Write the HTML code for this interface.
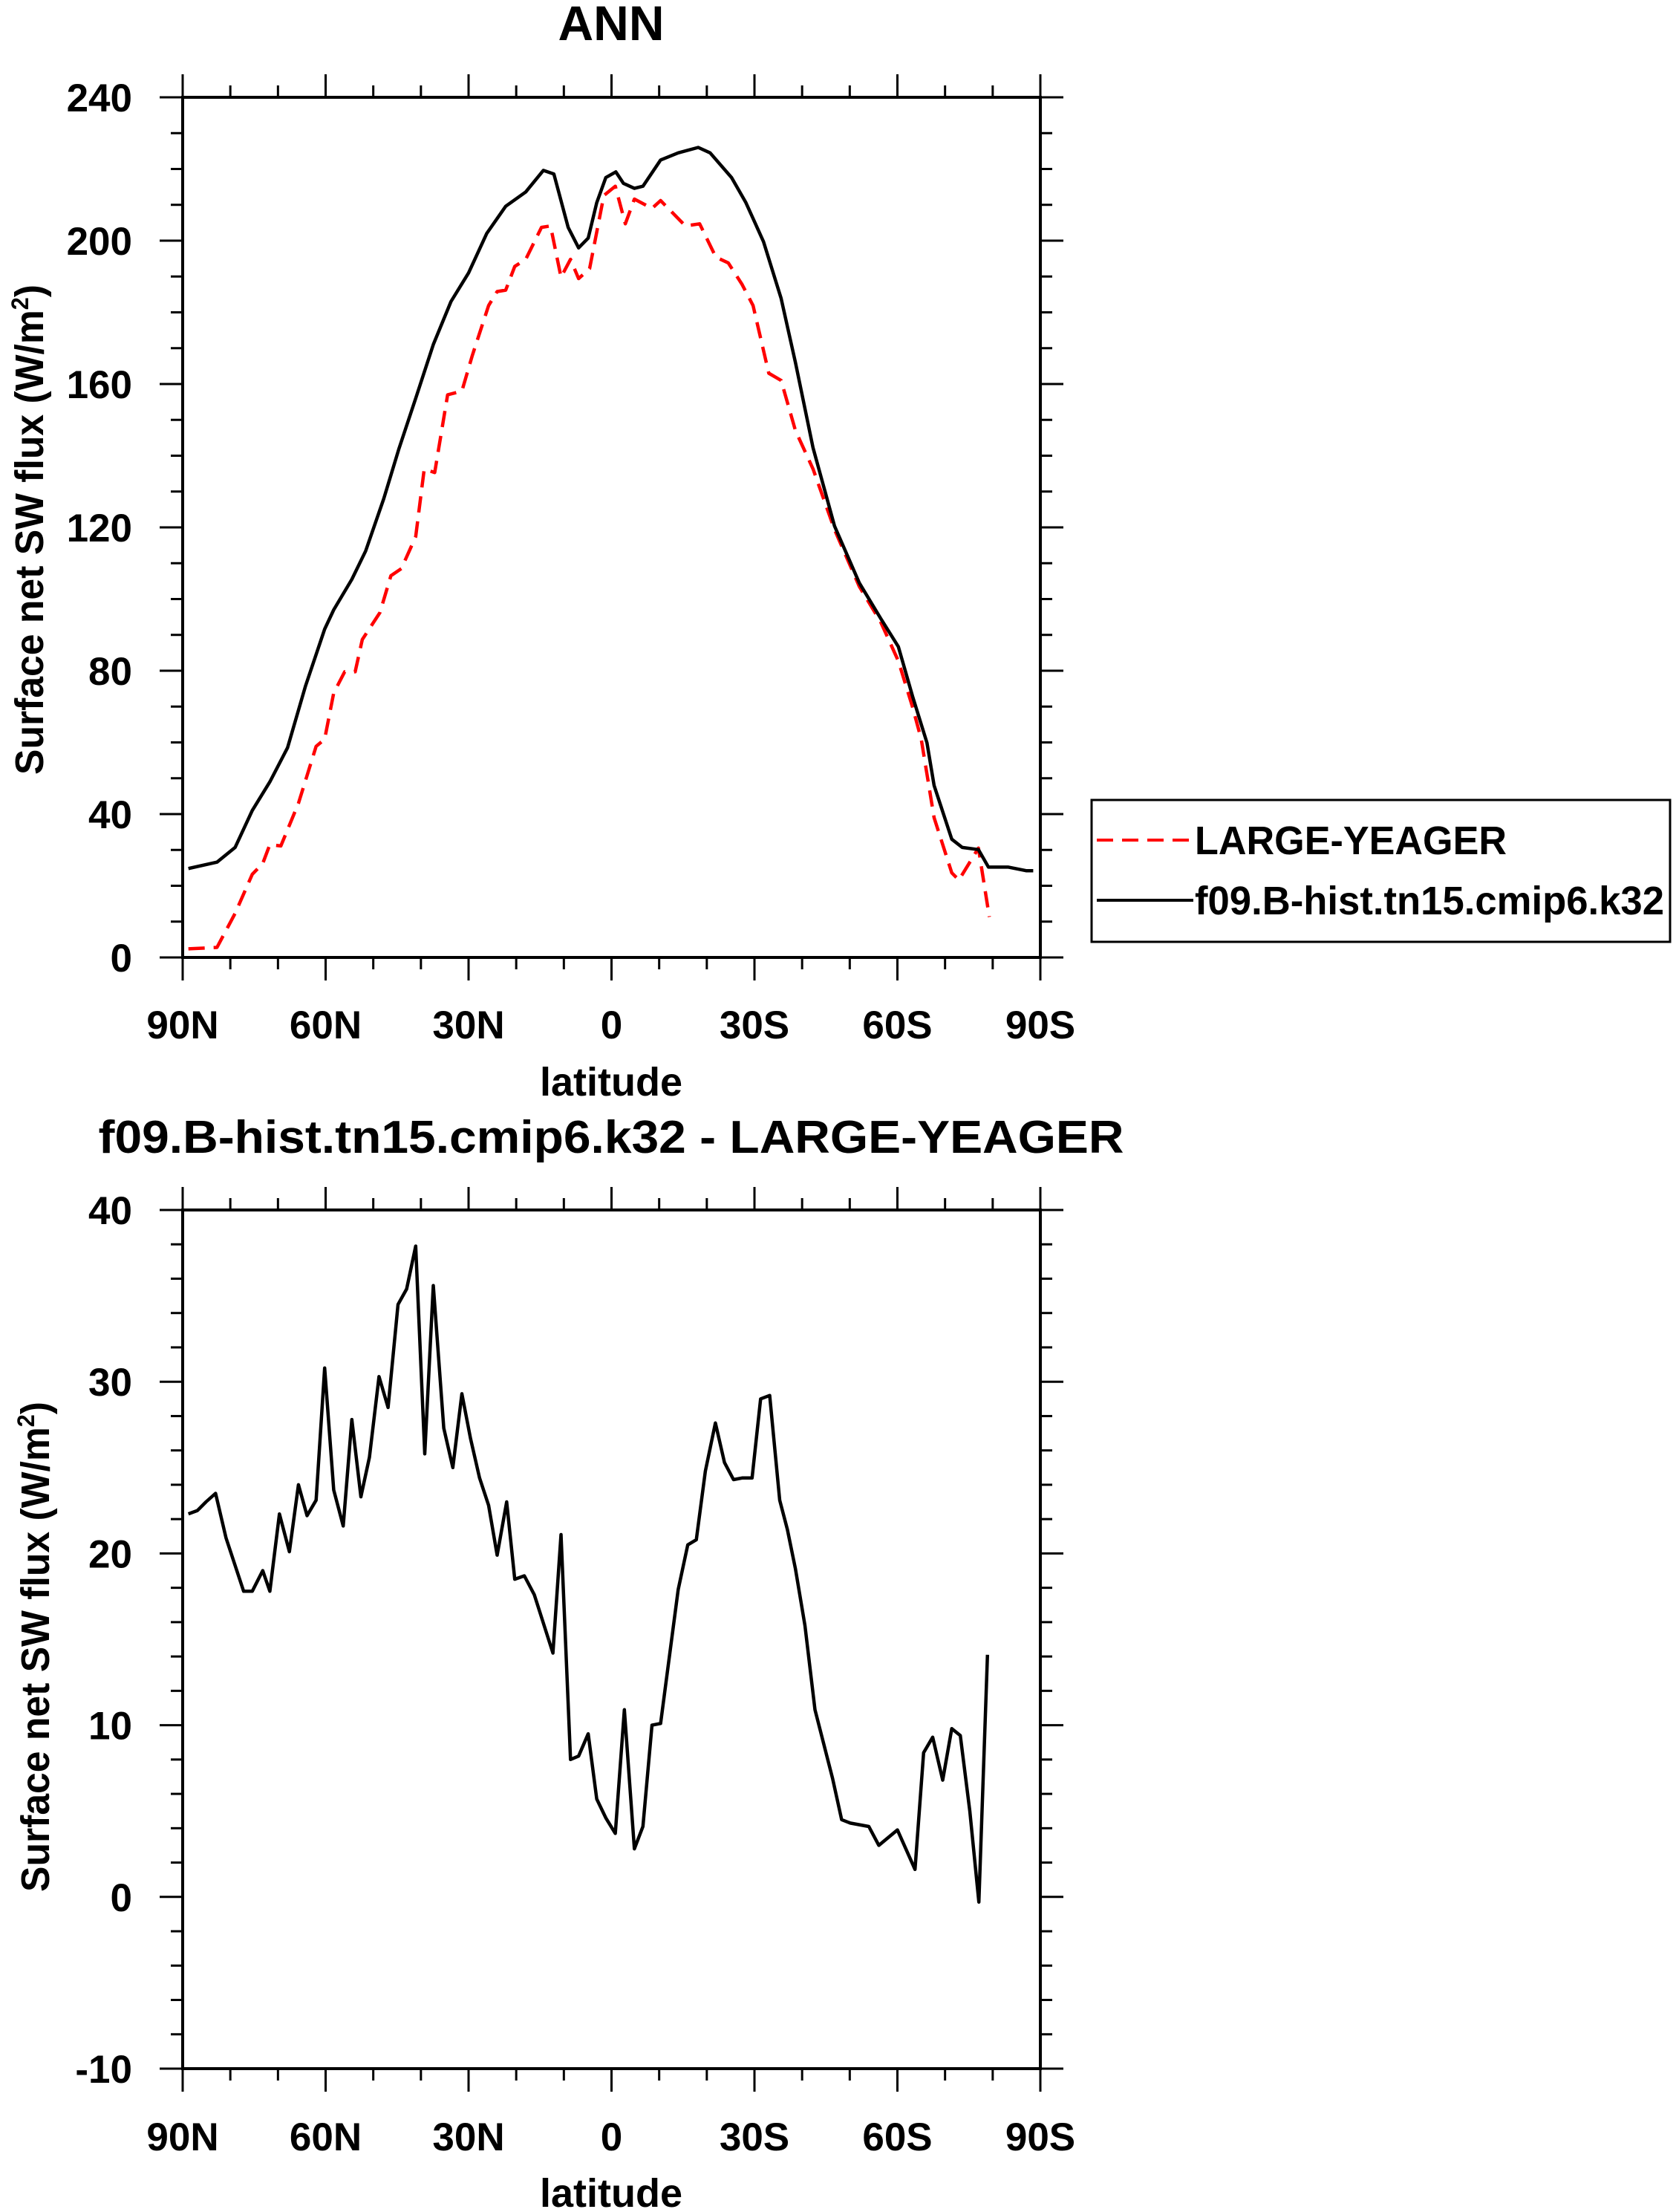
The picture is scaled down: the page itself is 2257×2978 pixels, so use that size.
<!DOCTYPE html>
<html><head><meta charset="utf-8"><style>
html,body{margin:0;padding:0;background:#fff}
svg{display:block;font-family:"Liberation Sans",sans-serif;font-weight:bold}
</style></head><body>
<svg id="chart" width="2257" height="2978" viewBox="0 0 2257 2978" xmlns="http://www.w3.org/2000/svg">
<rect width="2257" height="2978" fill="#fff"/>
<text x="823" y="54" font-size="66" text-anchor="middle">ANN</text>
<text x="823" y="1552" font-size="62" text-anchor="middle" textLength="1381" lengthAdjust="spacingAndGlyphs">f09.B-hist.tn15.cmip6.k32 - LARGE-YEAGER</text>
<g id="top"></g>
<g id="bot"></g>
<g>
<rect x="1470" y="1077" width="779" height="191" fill="#fff" stroke="#000" stroke-width="3"/>
<line x1="1477" y1="1131" x2="1607" y2="1131" stroke="#f00" stroke-width="4" stroke-dasharray="22,12"/>
<text x="1609" y="1150" font-size="54" textLength="420" lengthAdjust="spacingAndGlyphs">LARGE-YEAGER</text>
<line x1="1477" y1="1212" x2="1607" y2="1212" stroke="#000" stroke-width="4"/>
<text x="1609" y="1231" font-size="54" textLength="632" lengthAdjust="spacingAndGlyphs">f09.B-hist.tn15.cmip6.k32</text>
</g>
</svg>
<script>
const xTickLats=[90,60,30,0,-30,-60,-90];
const xTickLabels=["90N","60N","30N","0","30S","60S","90S"];
const topYTicks=[0,40,80,120,160,200,240];
const botYTicks=[-10,0,10,20,30,40];
const blackLat=[88.8,82.8,79,75.4,71.7,68,64.2,60.2,58.3,54.5,51.6,47.8,44.6,41.1,37.4,33.7,30,26.2,22.2,18,14.3,12.1,9.1,6.9,4.9,3.1,1.2,-0.9,-2.5,-4.8,-6.6,-10.3,-14,-18.2,-20.7,-25.2,-28.2,-31.9,-35.6,-38.6,-42.3,-46.8,-52,-56.5,-60.2,-63.2,-66.2,-67.7,-71.4,-73.6,-77,-79.1,-83.3,-87,-88.5];
const blackVal=[24.8,26.6,30.7,41,49,58.5,75.8,91.6,97,105.5,113.4,128,142,156,171,183,191,202,209.6,213.6,219.6,218.6,203.7,198,200.7,210.6,217.6,219.2,216,214.6,215.2,222.5,224.5,226,224.5,217.6,210.6,199.7,183.9,166,142.2,120.4,104.5,94.6,86.7,72.8,59.9,48,33,30.7,30.1,25.2,25.2,24.2,24.2];
const redLat=[88.8,82.8,79,75.4,73.2,71.7,69.4,65.7,62,60.2,58.3,56,53.8,52.3,48.6,46.3,44.1,41.1,39.3,37.1,34.4,31.4,29.2,25.8,24,22.2,20.3,18,14.7,12.8,10.6,8.6,6.9,4.6,1.6,-0.8,-2.9,-4.8,-8.5,-10.3,-15.5,-18.5,-21.9,-24.5,-27.4,-29.7,-33,-35.6,-38.6,-42.3,-46.8,-52,-56.5,-60.2,-63.2,-65,-67.7,-71.4,-72.9,-77,-79.3];
const redVal=[2.4,2.8,12.3,23.2,26.2,31.5,31.1,43,58.9,60.9,73.8,79.7,79.7,88.7,96.2,106.5,108.5,117.4,136.3,135.3,157,158,168,181.9,185.8,186.2,192.8,194.8,203.7,204.1,189.8,194.8,189.4,192.2,212.6,215.2,204.7,211.6,209,211.2,204.1,204.7,195.4,193.8,187.8,181.9,163,161,147,136.3,119.4,103.5,93.6,82.7,69.8,60.9,39,23.6,21.6,30.5,11.3];
const diffLat=[88.8,86.9,85.1,83.1,80.9,77.2,75.4,73.2,71.7,69.7,67.6,65.7,63.9,62,60.2,58.3,56.3,54.5,52.6,50.8,48.8,46.9,44.8,43,41.1,39.2,37.4,35.2,33.3,31.4,29.6,27.7,25.8,24,22,20.3,18.3,16.2,12.3,10.6,8.6,6.9,4.9,3.1,1.2,-0.8,-2.7,-4.8,-6.6,-8.5,-10.3,-14,-16,-17.8,-19.7,-21.8,-23.7,-25.6,-27.5,-29.5,-31.3,-33.2,-35.3,-36.9,-38.6,-40.6,-42.7,-46.4,-48.3,-50.1,-54,-56.1,-60,-63.7,-65.5,-67.4,-69.5,-71.4,-73.2,-75.2,-77.1,-78.9];
const diffVal=[22.3,22.5,23,23.5,20.9,17.8,17.8,19,17.8,22.3,20.1,24,22.2,23.1,30.8,23.7,21.6,27.8,23.3,25.6,30.3,28.5,34.5,35.4,37.9,25.8,35.6,27.3,25,29.3,26.7,24.4,22.8,19.9,23,18.5,18.7,17.6,14.2,21.1,8,8.2,9.5,5.7,4.6,3.7,10.9,2.8,4.1,10,10.1,17.9,20.5,20.8,24.8,27.6,25.3,24.3,24.4,24.4,29,29.2,23.1,21.4,19.1,15.8,10.9,6.9,4.5,4.3,4.1,3,3.9,1.6,8.4,9.3,6.8,9.8,9.4,5,-0.3,14.1];

const NS="http://www.w3.org/2000/svg";
function mk(parent,tag,attrs){const e=document.createElementNS(NS,tag);for(const k in attrs)e.setAttribute(k,attrs[k]);parent.appendChild(e);return e;}
const X0=246,X1=1401;
function xScale(lat){return X0+(90-lat)/180*(X1-X0);}

function panel(g,yTop,yBot,ymin,ymax,yTicks,yMinorStep,xLabY,latY,titleCY,titleX){
  const yS=v=>yBot-(v-ymin)/(ymax-ymin)*(yBot-yTop);
  let t;
  for(let lat=90;lat>=-90;lat-=10){
    const x=xScale(lat);const major=(lat%30===0);const L=major?31:16;
    t=mk(g,'line',{x1:x,x2:x,y1:yBot,y2:yBot+L,stroke:'#000','stroke-width':3});
    
    
    t=mk(g,'line',{x1:x,x2:x,y1:yTop,y2:yTop-L,stroke:'#000','stroke-width':3});
    
    
  }
  xTickLats.forEach((lat,i)=>{
    t=mk(g,'text',{x:xScale(lat),y:xLabY,'font-size':53,'text-anchor':'middle'});t.textContent=xTickLabels[i];
    
    
  });
  for(let v=ymin;v<=ymax+1e-9;v+=yMinorStep){
    const y=yS(v);const major=yTicks.some(m=>Math.abs(m-v)<1e-6);const L=major?31:16;
    t=mk(g,'line',{x1:X0-L,x2:X0,y1:y,y2:y,stroke:'#000','stroke-width':3});
    
    
    t=mk(g,'line',{x1:X1,x2:X1+L,y1:y,y2:y,stroke:'#000','stroke-width':3});
    
    
  }
  yTicks.forEach(v=>{
    t=mk(g,'text',{x:178,y:yS(v)+19,'font-size':53,'text-anchor':'end'});t.textContent=String(v);
    
    
  });
  t=mk(g,'text',{x:latY[0],y:latY[1],'font-size':54,'text-anchor':'middle'});t.textContent='latitude';
  
  
  t=mk(g,'text',{transform:`translate(${titleX},${titleCY}) rotate(-90)`,'font-size':54,'text-anchor':'middle',textLength:660,lengthAdjust:'spacingAndGlyphs'});
  t.innerHTML='Surface net SW flux (W/m<tspan dy="-20" font-size="32">2</tspan><tspan dy="20">)</tspan>';
  
  
  return yS;
}
function line(g,lats,vals,yS,color,dash,name){
  const d=lats.map((l,i)=>(i?'L':'M')+xScale(l).toFixed(1)+','+yS(vals[i]).toFixed(1)).join('');
  const p=mk(g,'path',{d:d,fill:'none',stroke:color,'stroke-width':4.5,'stroke-linejoin':'round'});
  if(dash)p.setAttribute('stroke-dasharray',dash);
  
  
}
const gt=document.getElementById('top'),gb=document.getElementById('bot');
const ys1=panel(gt,131,1289,0,240,topYTicks,10,1398,[823,1475],713,58);
line(gt,redLat,redVal,ys1,'#f00','22,12','series-large-yeager');
line(gt,blackLat,blackVal,ys1,'#000',null,'series-model');
let f=mk(gt,'rect',{x:X0,y:131,width:X1-X0,height:1289-131,fill:'none',stroke:'#000','stroke-width':4});


const ys2=panel(gb,1629,2785,-10,40,botYTicks,2,2895,[823,2971],2217,66);
line(gb,diffLat,diffVal,ys2,'#000',null,'series-difference');
f=mk(gb,'rect',{x:X0,y:1629,width:X1-X0,height:2785-1629,fill:'none',stroke:'#000','stroke-width':4});


</script>
</body></html>
